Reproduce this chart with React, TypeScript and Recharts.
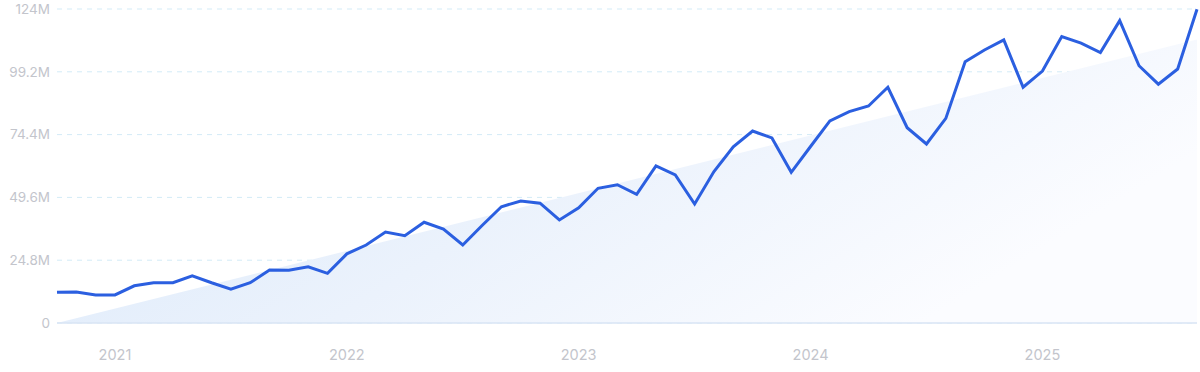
import React from "react";
import { ComposedChart, Line, Area, XAxis, YAxis, CartesianGrid } from "recharts";

const months: string[] = [
  "2020-10", "2020-11", "2020-12",
  "2021-01", "2021-02", "2021-03", "2021-04", "2021-05", "2021-06", "2021-07", "2021-08", "2021-09", "2021-10", "2021-11", "2021-12",
  "2022-01", "2022-02", "2022-03", "2022-04", "2022-05", "2022-06", "2022-07", "2022-08", "2022-09", "2022-10", "2022-11", "2022-12",
  "2023-01", "2023-02", "2023-03", "2023-04", "2023-05", "2023-06", "2023-07", "2023-08", "2023-09", "2023-10", "2023-11", "2023-12",
  "2024-01", "2024-02", "2024-03", "2024-04", "2024-05", "2024-06", "2024-07", "2024-08", "2024-09", "2024-10", "2024-11", "2024-12",
  "2025-01", "2025-02", "2025-03", "2025-04", "2025-05", "2025-06", "2025-07", "2025-08", "2025-09",
];

// Values in millions
const volume: number[] = [
  12.1, 12.2, 11.1,
  11.1, 14.7, 15.9, 15.9, 18.6, 15.9, 13.4, 15.9, 20.9, 20.8, 22.2, 19.6,
  27.3, 30.8, 35.9, 34.5, 39.8, 37.1, 30.8, 38.5, 45.9, 48.2, 47.3, 40.7,
  45.5, 53.2, 54.6, 50.8, 62.0, 58.5, 47.0, 59.8, 69.6, 75.8, 73.1, 59.5,
  69.7, 79.8, 83.5, 85.7, 93.1, 77.1, 70.7, 80.8, 103.2, 107.8, 111.8, 93.1,
  99.5, 113.1, 110.5, 106.8, 119.4, 101.6, 94.3, 100.3, 123.9,
];

const trendStart = 0;
const trendEnd = 112;

const yTicks: number[] = [0, 24.8, 49.6, 74.4, 99.2, 124];
const yTickLabels: string[] = ["0", "24.8M", "49.6M", "74.4M", "99.2M", "124M"];
const xTicks: string[] = ["2021-01", "2022-01", "2023-01", "2024-01", "2025-01"];

const data = months.map((m, i) => ({
  month: m,
  volume: volume[i],
  trend: i === 0 ? trendStart : i === months.length - 1 ? trendEnd : null,
}));

export default function App() {
  return (
    <div style={{ position: "absolute", left: 0, top: 0, width: 1200, height: 372, background: "#fff" }}>
      <ComposedChart
        width={1200}
        height={372}
        data={data}
        margin={{ top: 9, right: 3, bottom: 0, left: 0 }}
      >
        <defs>
          <linearGradient id="trendFill" x1="0" y1="0" x2="1" y2="0.4">
            <stop offset="0%" stopColor="#d9e8fa" />
            <stop offset="55%" stopColor="#ebf2fc" />
            <stop offset="100%" stopColor="#fbfcff" />
          </linearGradient>
        </defs>
        <CartesianGrid vertical={false} stroke="#d3ebf7" strokeDasharray="5 5" strokeWidth={1} />
        <XAxis
          dataKey="month"
          scale="point"
          padding={{ left: 0, right: 0 }}
          ticks={xTicks}
          tickFormatter={(v: string) => v.slice(0, 4)}
          tickLine={false}
          tickSize={0}
          tickMargin={27}
          height={49}
          axisLine={{ stroke: "#d9e4f4", strokeWidth: 1.5 }}
          tick={{ fill: "#c3c5cc", fontSize: 14.5, fontFamily: "Inter" }}
          interval={0}
        />
        <YAxis
          domain={[0, 124]}
          ticks={yTicks}
          tickFormatter={(v: number) => yTickLabels[yTicks.indexOf(v)] ?? String(v)}
          axisLine={false}
          tickLine={false}
          tickSize={0}
          tickMargin={7}
          width={57}
          tick={{ fill: "#c3c5cc", fontSize: 13.5, fontFamily: "Inter" }}
          interval={0}
        />
        <Area
          type="linear"
          dataKey="trend"
          connectNulls
          stroke="none"
          fill="url(#trendFill)"
          fillOpacity={1}
          isAnimationActive={false}
          dot={false}
          activeDot={false}
        />
        <Line
          type="linear"
          dataKey="volume"
          stroke="#2b5fe0"
          strokeWidth={3}
          dot={false}
          activeDot={false}
          isAnimationActive={false}
        />
      </ComposedChart>
    </div>
  );
}
